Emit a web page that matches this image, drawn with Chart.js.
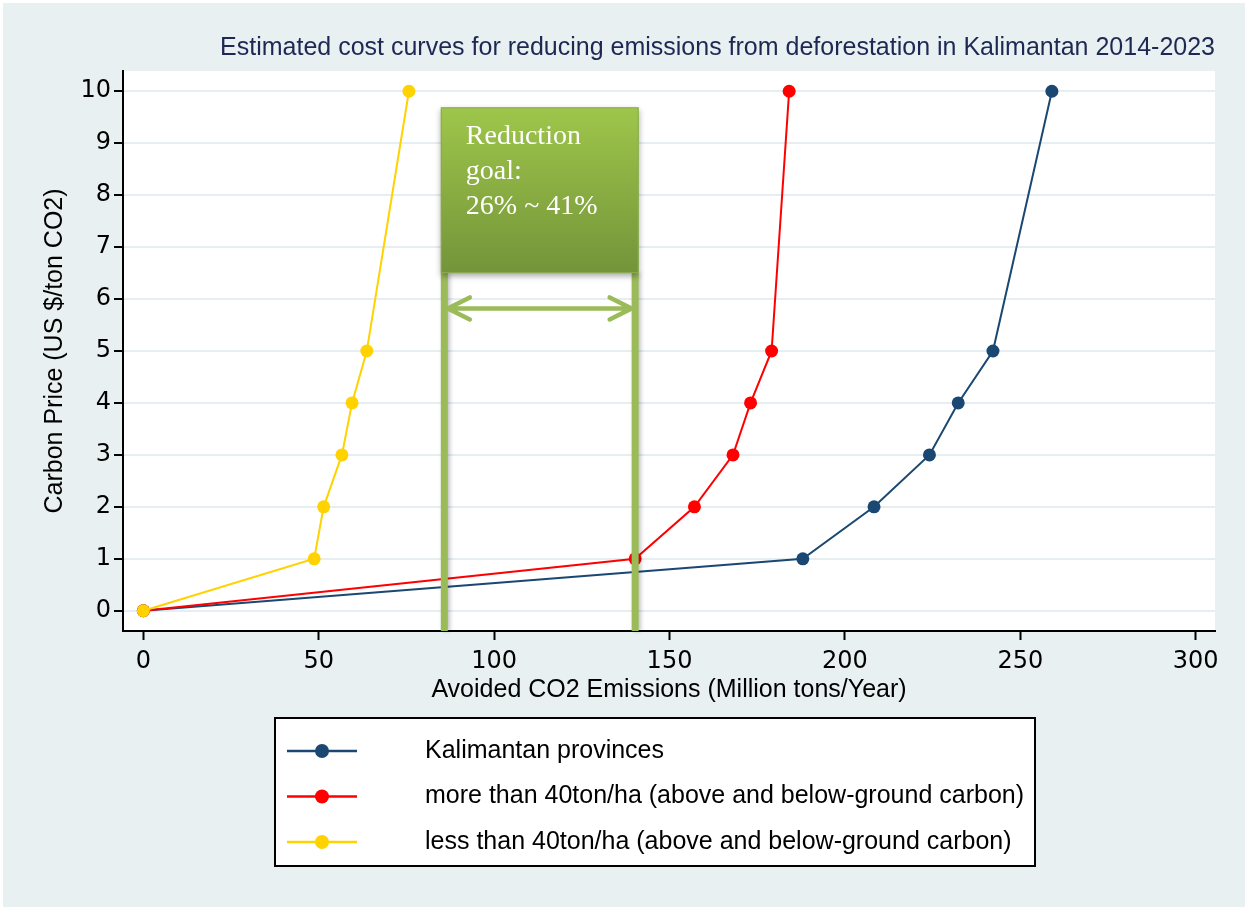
<!DOCTYPE html>
<html>
<head>
<meta charset="utf-8">
<script src="https://cdn.jsdelivr.net/npm/chart.js@4.4.1/dist/chart.umd.min.js"></script>
<style>
  body { margin: 0; background: #ffffff; }
  #wrap { width: 1248px; height: 910px; position: relative; }
</style>
</head>
<body>
<div id="wrap"><canvas id="cost-curve-viz"></canvas></div>
<script>
// Carbon price steps (US $/ton CO2), shared by the three curves
var price_steps = [0, 1, 2, 3, 4, 5, 10];

// Avoided emissions (Million tons/Year) at each price step
var avoided_kalimantan = [0, 188, 208.3, 224.1, 232.3, 242.2, 259];
var avoided_more_40 = [0, 140.2, 157.1, 168.1, 173.1, 179.1, 184.1];
var avoided_less_40 = [0, 48.7, 51.4, 56.6, 59.5, 63.7, 75.7];

var series_labels = [ 'Kalimantan provinces',
                      'more than 40ton/ha (above and below-ground carbon)',
                      'less than 40ton/ha (above and below-ground carbon)' ];
var series_colors = [ '#1a4872', '#ff0000', '#ffd200' ];

// Reduction goal band (avoided emissions) and its label
var goal_range = [85.8, 140.2];
var goal_label = [ 'Reduction', 'goal:', '26% ~ 41%' ];

var x_ticks = [0, 50, 100, 150, 200, 250, 300];
var y_ticks = [0, 1, 2, 3, 4, 5, 6, 7, 8, 9, 10];

var chart_title = 'Estimated cost curves for reducing emissions from deforestation in Kalimantan 2014-2023';
var xAxis_label = 'Avoided CO2 Emissions (Million tons/Year)';
var yAxis_label = 'Carbon Price (US $/ton CO2)';

var SANS = "'Liberation Sans', Arial, sans-serif";
var TICK_FONT = "'DejaVu Sans', 'Liberation Sans', sans-serif";
var SERIF = "'Liberation Serif', 'Times New Roman', serif";
var GOAL_GREEN = '#9bbb59';

function make_points(xs, ys) {
	return xs.map(function(x, i) { return { x: x, y: ys[i] }; });
}

function make_dataset(idx, xs, order) {
	return { label: series_labels[idx],
	         data: make_points(xs, price_steps),
	         showLine: true,
	         borderColor: series_colors[idx],
	         backgroundColor: series_colors[idx],
	         borderWidth: 2,
	         pointRadius: 6.5,
	         pointBorderWidth: 0,
	         pointHoverRadius: 6.5,
	         order: order
	       };
}

// page + plot backgrounds
var background_plugin = {
	id: 'backgrounds',
	beforeDraw: function(chart) {
		var ctx = chart.ctx, a = chart.chartArea;
		ctx.save();
		ctx.fillStyle = '#ffffff';
		ctx.fillRect(0, 0, chart.width, chart.height);
		ctx.fillStyle = '#e8f0f2';
		ctx.fillRect(3, 3, chart.width - 6, chart.height - 6);
		ctx.fillStyle = '#ffffff';
		ctx.fillRect(a.left, a.top, a.right - a.left, a.bottom - a.top);
		ctx.restore();
	}
};

// green reduction goal box, bars and double arrow
var goal_plugin = {
	id: 'goalBand',
	afterDatasetsDraw: function(chart) {
		var ctx = chart.ctx, xs = chart.scales.x, ys = chart.scales.y, a = chart.chartArea;
		var x1 = xs.getPixelForValue(goal_range[0]);
		var x2 = xs.getPixelForValue(goal_range[1]);
		var barW = 7;
		var boxTop = ys.getPixelForValue(9.69);
		var boxBot = ys.getPixelForValue(6.5);
		var arrowY = ys.getPixelForValue(5.82);

		ctx.save();
		// vertical bars
		ctx.shadowColor = 'rgba(0,0,0,0.25)';
		ctx.shadowBlur = 4;
		ctx.shadowOffsetX = 2;
		ctx.fillStyle = GOAL_GREEN;
		ctx.fillRect(x1 - barW / 2, boxBot, barW, a.bottom - boxBot);
		ctx.fillRect(x2 - barW / 2, boxBot, barW, a.bottom - boxBot);

		// box with gradient
		var bl = x1 - barW / 2, br = x2 + barW / 2;
		var grad = ctx.createLinearGradient(0, boxTop, 0, boxBot);
		grad.addColorStop(0, '#9ec64a');
		grad.addColorStop(1, '#74943a');
		ctx.shadowColor = 'rgba(0,0,0,0.35)';
		ctx.shadowBlur = 6;
		ctx.shadowOffsetX = 0;
		ctx.shadowOffsetY = 3;
		ctx.fillStyle = grad;
		ctx.fillRect(bl, boxTop, br - bl, boxBot - boxTop);
		ctx.shadowColor = 'transparent';
		ctx.strokeStyle = '#8aab4f';
		ctx.lineWidth = 1;
		ctx.strokeRect(bl + 0.5, boxTop + 0.5, br - bl - 1, boxBot - boxTop - 1);

		// label text
		ctx.fillStyle = '#ffffff';
		ctx.font = '28px ' + SERIF;
		ctx.textBaseline = 'alphabetic';
		ctx.textAlign = 'left';
		goal_label.forEach(function(t, i) {
			ctx.fillText(t, bl + 25, boxTop + 37 + i * 35);
		});

		// double arrow
		var ax1 = x1 + barW / 2, ax2 = x2 - barW / 2;
		ctx.strokeStyle = GOAL_GREEN;
		ctx.lineWidth = 4.5;
		ctx.lineCap = 'round';
		ctx.lineJoin = 'round';
		ctx.beginPath();
		ctx.moveTo(ax1, arrowY); ctx.lineTo(ax2, arrowY);
		ctx.moveTo(ax1 + 22, arrowY - 11); ctx.lineTo(ax1, arrowY); ctx.lineTo(ax1 + 22, arrowY + 11);
		ctx.moveTo(ax2 - 22, arrowY - 11); ctx.lineTo(ax2, arrowY); ctx.lineTo(ax2 - 22, arrowY + 11);
		ctx.stroke();
		ctx.restore();
	}
};

// boxed legend below the x axis
var legend_box_plugin = {
	id: 'legendBox',
	afterDraw: function(chart) {
		var ctx = chart.ctx, a = chart.chartArea;
		var left = a.left + 152, top = a.bottom + 87, w = 760, h = 148;
		ctx.save();
		ctx.fillStyle = '#ffffff';
		ctx.fillRect(left, top, w, h);
		ctx.strokeStyle = '#000000';
		ctx.lineWidth = 2;
		ctx.strokeRect(left, top, w, h);
		// narrow face if it is there, else the regular one
		ctx.font = "29px 'Liberation Sans Narrow', 'Arial Narrow', monospace";
		var narrowW = ctx.measureText(series_labels[0]).width;
		if (narrowW > 200 && narrowW < 260) {
			ctx.font = "29px 'Liberation Sans Narrow', 'Arial Narrow', sans-serif";
		} else {
			ctx.font = '25px ' + SANS;
		}
		ctx.textBaseline = 'middle';
		ctx.textAlign = 'left';
		chart.data.datasets.forEach(function(ds, i) {
			var y = top + 33 + i * 45.5;
			ctx.strokeStyle = ds.borderColor;
			ctx.lineWidth = 2.5;
			ctx.beginPath();
			ctx.moveTo(left + 12, y); ctx.lineTo(left + 82, y);
			ctx.stroke();
			ctx.fillStyle = ds.backgroundColor;
			ctx.beginPath();
			ctx.arc(left + 47, y, 7, 0, Math.PI * 2);
			ctx.fill();
			ctx.fillStyle = '#000000';
			ctx.fillText(ds.label, left + 150, y);
		});
		ctx.restore();
	}
};

function generate_cost_viz(canvas_id) {
	var ctx = document.getElementById(canvas_id);
	var cfg = {
		type: 'scatter',
		data: {
			datasets: [ make_dataset(0, avoided_kalimantan, 3),
			            make_dataset(1, avoided_more_40, 2),
			            make_dataset(2, avoided_less_40, 1) ]
		},
		options: {
			responsive: true,
			maintainAspectRatio: false,
			animation: false,
			devicePixelRatio: 1,
			layout: { padding: { left: 40, right: 33, top: 0, bottom: 205 } },
			plugins: {
				legend: { display: false },
				tooltip: { enabled: false },
				title: { display: true,
				         text: chart_title,
				         align: 'end',
				         color: '#1d2853',
				         font: { family: SANS, size: 25, weight: 'normal' },
				         padding: { top: 33, bottom: 8 }
				}
			},
			scales: {
				x: {
					type: 'linear',
					min: -5.8, max: 305.5,
					afterBuildTicks: function(s) { s.ticks = x_ticks.map(function(v) { return { value: v }; }); },
					afterFit: function(s) { s.height = 74; },
					ticks: { color: '#000', font: { family: TICK_FONT, size: 24 }, padding: 7, maxRotation: 0 },
					grid: { drawOnChartArea: false, tickLength: 9, tickColor: '#000', tickWidth: 2 },
					border: { color: '#000', width: 2 },
					title: { display: true, text: xAxis_label, color: '#000',
					         font: { family: SANS, size: 25 }, padding: 0 }
				},
				y: {
					type: 'linear',
					min: -0.39, max: 10.39,
					afterBuildTicks: function(s) { s.ticks = y_ticks.map(function(v) { return { value: v }; }); },
					afterFit: function(s) { s.width = 83; },
					ticks: { color: '#000', font: { family: TICK_FONT, size: 24 }, padding: 3 },
					grid: { color: '#e6eef1', lineWidth: 2, tickLength: 9, tickColor: '#000', tickWidth: 2 },
					border: { color: '#000', width: 2 },
					title: { display: true, text: yAxis_label, color: '#000',
					         font: { family: SANS, size: 25 }, padding: 0 }
				}
			}
		},
		plugins: [ background_plugin, goal_plugin, legend_box_plugin ]
	};
	new Chart(ctx, cfg);
} // generate_cost_viz

generate_cost_viz('cost-curve-viz');
</script>
</body>
</html>
